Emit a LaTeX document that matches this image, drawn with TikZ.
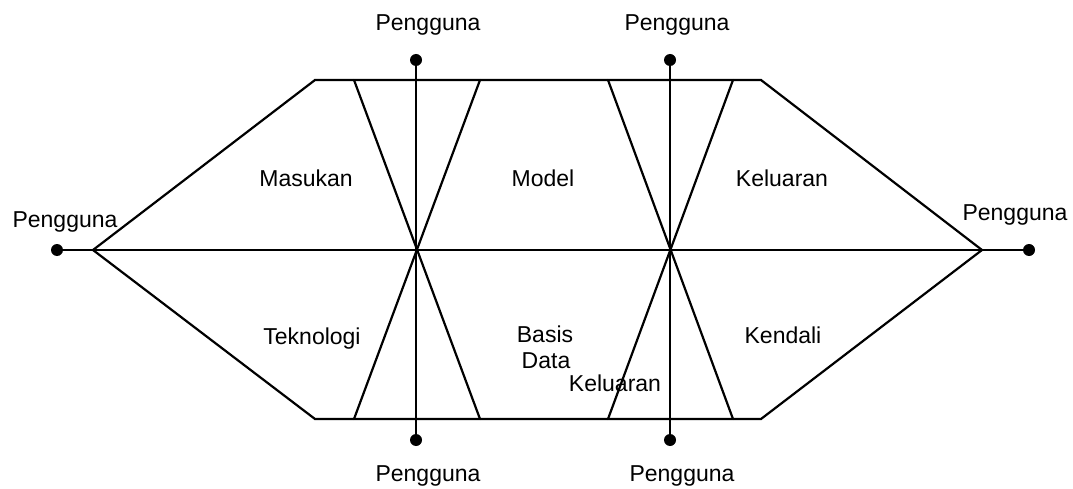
\documentclass[tikz,border=0pt]{standalone}
\usepackage{fontspec}
\setmainfont{Liberation Sans}
\begin{document}
\begin{tikzpicture}[x=1pt,y=-1pt,
  ln/.style={line width=2.2pt,line cap=round,line join=miter},
  dotnode/.style={circle,fill=black,inner sep=0pt,minimum size=12pt},
  lbl/.style={font=\fontsize{23}{26}\selectfont,anchor=base,inner sep=0pt},
  lbl2/.style={font=\fontsize{23}{26}\selectfont,align=center,inner sep=0pt}]
\useasboundingbox (0,0) rectangle (1073,489);
% hexagon corners
\coordinate (L) at (93,250);
\coordinate (R) at (982,250);
\coordinate (TL) at (315,80);
\coordinate (TR) at (761,80);
\coordinate (BL) at (315,419);
\coordinate (BR) at (761,419);
% crossing centres
\coordinate (C1) at (416,250);
\coordinate (C2) at (670,250);
% diagonal end points
\coordinate (A1) at (354,80);
\coordinate (A2) at (480,80);
\coordinate (A3) at (354,419);
\coordinate (A4) at (480,419);
\coordinate (B1) at (608,80);
\coordinate (B2) at (733,80);
\coordinate (B3) at (608,419);
\coordinate (B4) at (733,419);
% dots
\node[dotnode] (dL) at (57,250) {};
\node[dotnode] (dR) at (1029,250) {};
\node[dotnode] (dT1) at (416,60) {};
\node[dotnode] (dT2) at (670,60) {};
\node[dotnode] (dB1) at (416,440) {};
\node[dotnode] (dB2) at (670,440) {};
% hexagon
\draw[ln] (L) -- (TL) -- (TR) -- (R) -- (BR) -- (BL) -- cycle;
% axes
\draw[ln] (dL.center) -- (dR.center);
\draw[ln] (dT1.center) -- (dB1.center);
\draw[ln] (dT2.center) -- (dB2.center);
% diagonals
\draw[ln] (A1) -- (A4);
\draw[ln] (A2) -- (A3);
\draw[ln] (B1) -- (B4);
\draw[ln] (B2) -- (B3);
% labels
\node[lbl] (pT1) at (428,31) {Pengguna};
\node[lbl] (pT2) at (677,31) {Pengguna};
\node[lbl] (pL) at (65,227) {Pengguna};
\node[lbl] (pR) at (1015,221) {Pengguna};
\node[lbl] (pB1) at (428,481) {Pengguna};
\node[lbl] (pB2) at (682,481) {Pengguna};
\node[lbl] (masukan) at (306,186) {Masukan};
\node[lbl] (model) at (543,186) {Model};
\node[lbl] (keluaran1) at (782,186) {Keluaran};
\node[lbl] (teknologi) at (312,344) {Teknologi};
\node[lbl] (basis) at (545,342) {Basis};
\node[lbl] (data) at (546,368) {Data};
\node[lbl] (keluaran2) at (615,391) {Keluaran};
\node[lbl] (kendali) at (783,343) {Kendali};
\end{tikzpicture}
\end{document}
